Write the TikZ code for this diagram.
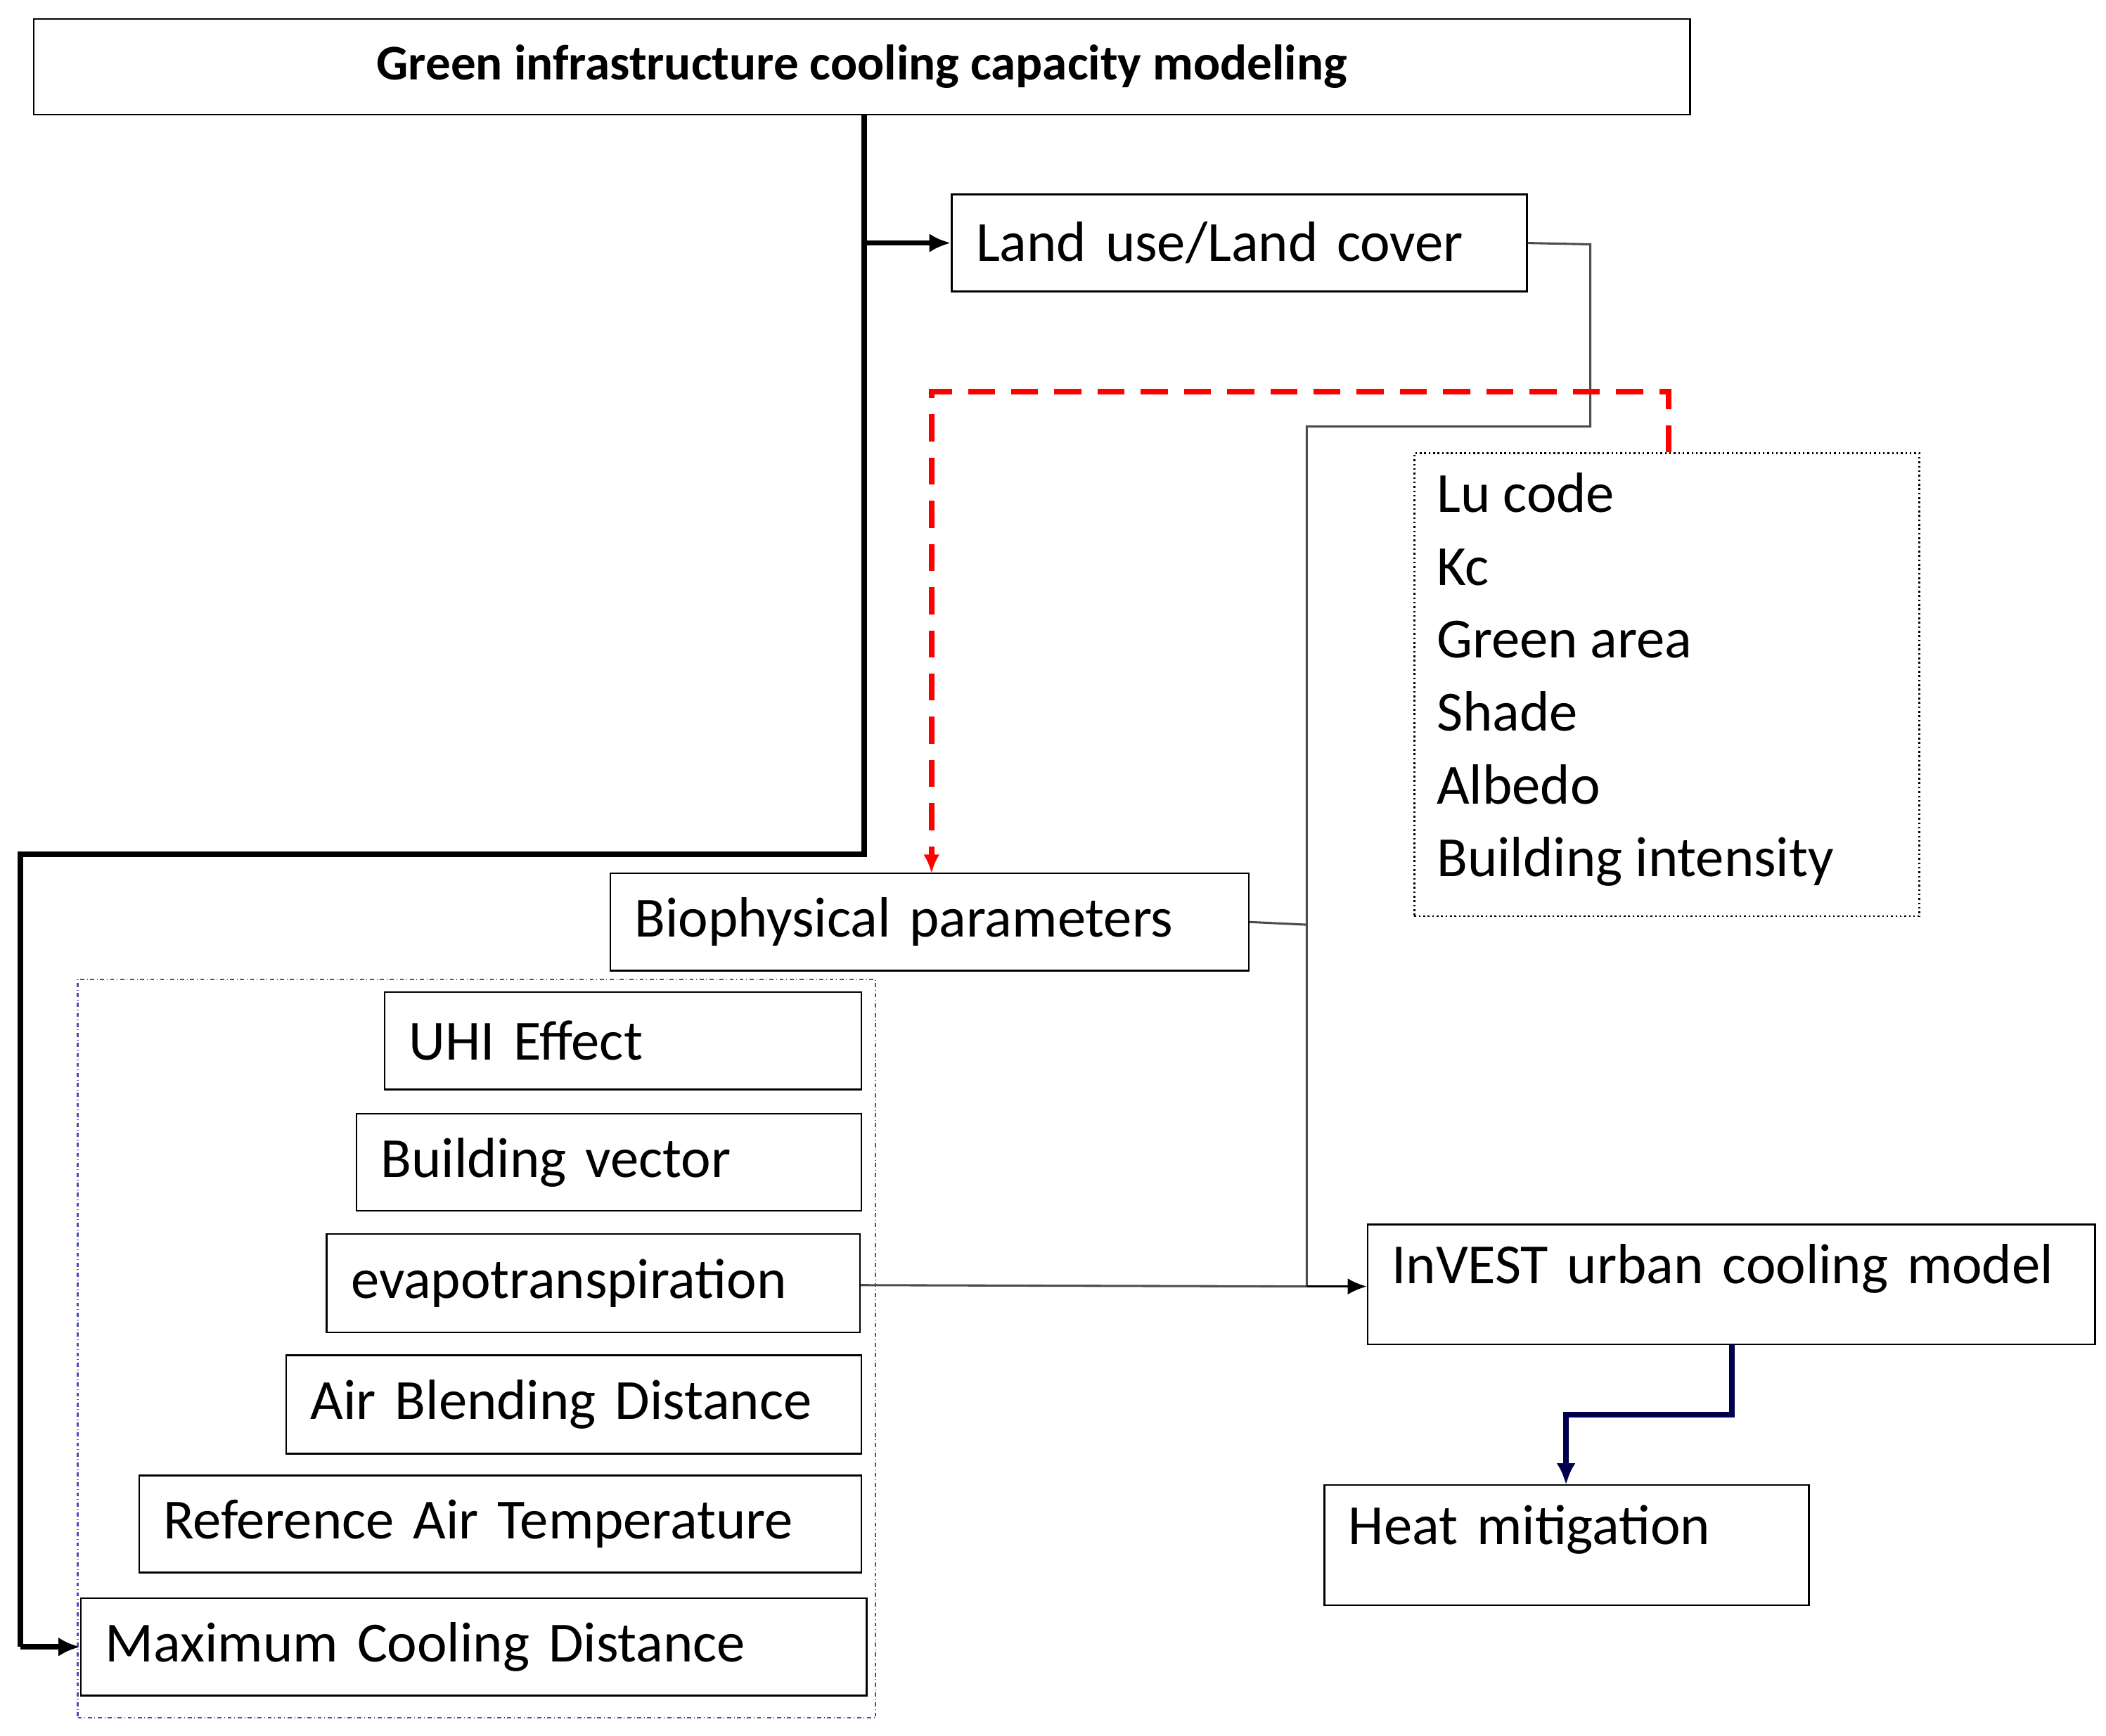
\documentclass[tikz,border=0pt]{standalone}
\usepackage{fontspec}
\setmainfont{Carlito}
\usetikzlibrary{arrows.meta}
\newcommand{\bx}[7][]{%
 \pgfmathsetmacro{\w}{#5-#3}\pgfmathsetmacro{\h}{#6-#4}\pgfmathsetmacro{\tw}{#5-#3-36}
 \node[box,#1,minimum width=\w pt,minimum height=\h pt,text width=\tw pt] (#2) at ({(#3+#5)/2},{-(#4+#6)/2}) {#7};}
\begin{document}
\begin{tikzpicture}[x=1pt,y=1pt,
 box/.style={draw,line width=1.3pt,inner xsep=18pt,inner ysep=0pt,align=left,font=\fontsize{42}{50}\selectfont},
 thick/.style={line width=4pt,-{Latex[length=16pt,width=14pt]}},
 thin/.style={draw=black!70,line width=1.6pt}]
\useasboundingbox (0,0) rectangle (1560,-1286);
\node[draw,line width=1.3pt,minimum width=1227pt,minimum height=71pt,font=\fontsize{37}{44}\selectfont\bfseries] (t) at (638.5,-49.5) {Green infrastructure cooling capacity modeling};
\bx{lu}{705}{144}{1131}{216}{Land use/Land cover}
\node[draw,dotted,line width=1.3pt,anchor=north west,minimum width=374pt,minimum height=343pt,inner sep=0pt] (par) at (1047,-335) {};
\node[anchor=north west,align=left,inner sep=0pt,font=\fontsize{42}{54}\selectfont] (partxt) at (1064,-350) {Lu code\\Kc\\Green area\\Shade\\Albedo\\Building intensity};
\bx{bio}{452}{647}{925}{719}{Biophysical parameters}
\node[draw=blue!40!gray,dash dot,line width=1.2pt,anchor=north west,minimum width=591pt,minimum height=547pt,inner sep=0pt] (grp) at (57,-725) {};
\bx{uhi}{285}{735}{638}{807}{UHI Effect}
\bx{bv}{264}{825}{638}{897}{Building vector}
\bx{ev}{242}{914}{637}{987}{evapotranspiration}
\bx{ab}{212}{1004}{638}{1077}{Air Blending Distance}
\bx{rt}{103}{1093}{638}{1165}{Reference Air Temperature}
\bx{mc}{60}{1184}{642}{1256}{Maximum Cooling Distance}
\bx[text depth=30pt]{inv}{1013}{907}{1552}{996}{InVEST urban cooling model}
\bx[text depth=30pt]{hm}{981}{1100}{1340}{1189}{Heat mitigation}
% thick black
\coordinate (j1) at (640,-180);
\draw[line width=4pt] (t.south -| j1) -- (640,-633) -- (15,-633) -- (15,-1220);
\draw[thick] (15,-1220) -- (mc.west |- 0,-1220);
\draw[thick] (j1) -- (lu.west |- j1);
% thin gray
\draw[thin] (lu.east) -- (1178,-181) -- (1178,-316) -- (968,-316) -- (968,-953);
\draw[thin] (bio.east) -- (968,-685);
\draw[thin,black,-{Latex[length=14pt,width=12pt]}] (968,-953) -- (inv.west |- 0,-953);
\draw[thin] (ev.east |- 0,-952) -- (968,-953);
% red dashed
\draw[red,line width=4pt,dash pattern=on 20pt off 12pt,-{Latex[length=14pt,width=12pt]}] (1236,-335) -- (1236,-290) -- (690,-290) -- (690,-647);
% navy
\draw[blue!30!black,line width=4pt,-{Latex[length=16pt,width=14pt]}] (1283,-996) -- (1283,-1048) -- (1160,-1048) -- (1160,-1100);
\end{tikzpicture}
\end{document}
